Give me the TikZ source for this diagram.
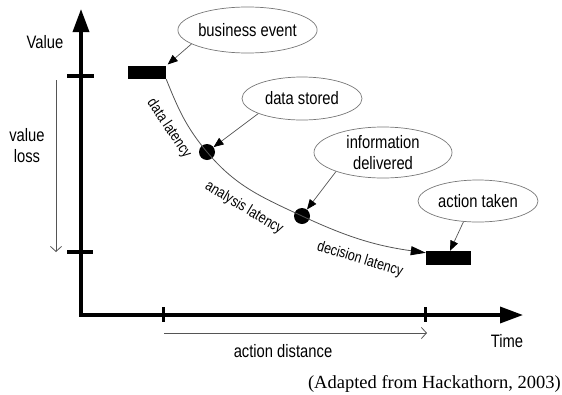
\documentclass[tikz,border=0pt]{standalone}
\usepackage{fontspec}
\setmainfont{Liberation Sans}[FakeStretch=0.82]
\newfontfamily\capserif{Liberation Serif}
\usetikzlibrary{arrows.meta,shapes.geometric}
\definecolor{thinc}{HTML}{555555}
\definecolor{ellc}{HTML}{777777}
\begin{document}
\begin{tikzpicture}[x=1pt,y=-1pt,
  lbl/.style={font=\fontsize{18}{21}\selectfont, inner sep=0pt},
  rlbl/.style={font=\fontsize{15.2}{17}\selectfont, inner sep=0pt},
  bubble/.style={ellipse, draw=ellc, line width=0.7pt, inner sep=0pt, align=center, font=\fontsize{18}{21}\selectfont},
  axis/.style={line width=3.5pt, line join=miter},
  tickmark/.style={line width=3.5pt},
  bar/.style={rectangle, fill=black, inner sep=0pt},
  dotnode/.style={circle, fill=black, inner sep=0pt, minimum size=16pt},
  callout/.style={draw=thinc, line width=0.7pt, -{Triangle[length=10pt,width=8pt,color=black]}},
  flow/.style={draw=thinc, line width=0.8pt, -{Triangle[length=15pt,width=9pt,color=black]}},
  span/.style={draw=thinc, line width=0.8pt, -{Straight Barb[length=5pt,width=11pt]}}
]
\useasboundingbox (0,0) rectangle (562,394);

% axes
\coordinate (ytop) at (81,9);
\coordinate (orig) at (81,315);
\coordinate (xend) at (523,315);
\draw[axis, {Triangle[length=23pt,width=16pt]}-{Triangle[length=23pt,width=16pt]}] (ytop) -- (orig) -- (xend);

% ticks
\coordinate (t1a) at (67,76);  \coordinate (t1b) at (94,76);
\coordinate (t2a) at (67,252); \coordinate (t2b) at (93,252);
\coordinate (t3a) at (163,307); \coordinate (t3b) at (163,322);
\coordinate (t4a) at (425,307); \coordinate (t4b) at (425,322);
\draw[tickmark] (t1a) -- (t1b);
\draw[tickmark] (t2a) -- (t2b);
\draw[line width=3pt] (t3a) -- (t3b);
\draw[line width=3pt] (t4a) -- (t4b);

% axis labels
\node[lbl, anchor=base] (vlab) at (45,48) {Value};
\node[lbl, anchor=base] (tlab) at (507,347) {Time};
\node[lbl, anchor=base, align=center] (vloss) at (27,162) {value\\loss};
\node[lbl, anchor=base] (adist) at (283,357) {action distance};

% span arrows
\coordinate (vlTop) at (56,80);
\coordinate (vlBot) at (56,252);
\draw[span] (vlTop) -- (vlBot);
\coordinate (adA) at (164,333);
\coordinate (adB) at (427,333);
\draw[span] (adA) -- (adB);

% markers
\node[bar, minimum width=38pt, minimum height=13pt] (r1) at (147,72.5) {};
\node[bar, minimum width=45pt, minimum height=14pt] (r2) at (448.5,258) {};
\node[dotnode] (d1) at (207,152) {};
\node[dotnode] (d2) at (302,216) {};

% curve
\draw[flow] (r1.south east) to[out=-68,in=130] (d1.center) to[out=-50,in=155] (d2.center) to[out=-25,in=172] ([yshift=-2pt]r2.north west);

% bubbles
\node[bubble, minimum width=121pt, minimum height=46pt] (be) at (247.5,30) {business event};
\node[bubble, minimum width=120pt, minimum height=43pt] (ds) at (302,98.5) {data stored};
\node[bubble, minimum width=138pt, minimum height=51pt] (id) at (383,152.5) {information\\delivered};
\node[bubble, minimum width=120pt, minimum height=42pt] (at) at (478,201) {action taken};

% callouts
\draw[callout, shorten >=2pt] (be.194) -- (r1.north east);
\draw[callout] (ds.199) -- (d1);
\draw[callout] (id.202) -- (d2);
\draw[callout] (at.235) -- ([xshift=1.5pt]r2.north);

% latency labels
\node[rlbl, rotate=-56] (dl) at (169,128.5) {data latency};
\node[rlbl, rotate=-31] (al) at (244,208) {analysis latency};
\node[rlbl, rotate=-17] (dcl) at (360,259.5) {decision latency};

% caption
\node[font=\capserif\fontsize{18.5}{22}\selectfont, anchor=base east, inner sep=0pt] (cap) at (561,388) {(Adapted from Hackathorn, 2003)};
\end{tikzpicture}
\end{document}
